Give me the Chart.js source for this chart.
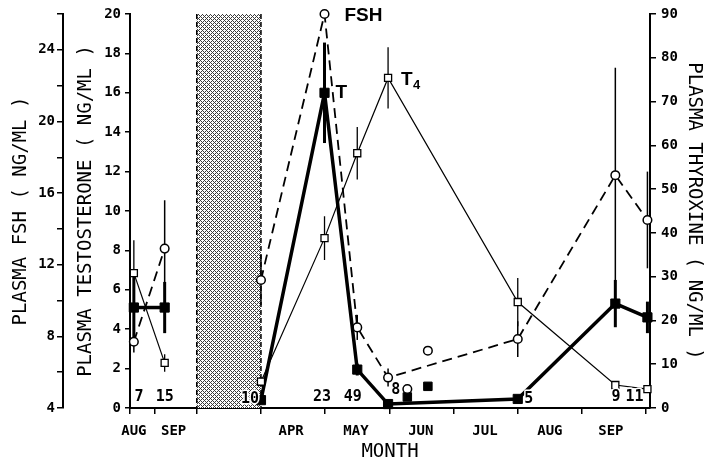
<!DOCTYPE html>
<html>
<head>
<meta charset="utf-8">
<script src="https://cdn.jsdelivr.net/npm/chart.js@4"></script>
<style>
  html, body { margin: 0; padding: 0; background: #fff; }
  #wrap { width: 705px; height: 463px; }
</style>
</head>
<body>
<div id="wrap"><canvas id="chart"></canvas></div>
<script>
// x is counted in months from 1 April; left of -1 is the previous Aug/Sep,
// squeezed in before the shaded March block (-1 .. 0)
const prevX = [-1.98, -1.50];
const mainX = [0, 0.99, 1.50, 1.98, 4.0, 5.52, 6.02];

const fshPrev    = [7.7, 12.9];
const fshPrevErr = [0.6, 2.7];
const fshMain    = [11.15, 26.0, 8.5, 5.7, 7.85, 17.0, 14.5];
const fshMainErr = [1.4, 0, 0.7, 0.5, 1.0, 6.0, 2.7];

const tPrev    = [5.1, 5.1];
const tPrevErr = [1.8, 1.3];
const tMain    = [0.4, 16.0, 1.95, 0.2, 0.46, 5.3, 4.6];
const tMainErr = [0, 2.55, 0.3, 0, 0, 1.2, 0.8];

const t4Prev    = [30.8, 10.3];
const t4PrevErr = [7.5, 2.0];
const t4Main    = [6.0, 38.8, 58.2, 75.4, 24.2, 5.25, 4.3];
const t4MainErr = [1.0, 5.0, 6.0, 7.0, 5.5, 0, 0];

// separate group plotted without lines (early June)
const extraX   = [2.28, 2.60];
const extraFsh = [5.06, 7.2];
const extraT   = [0.56, 1.1];

// sample sizes along the bottom (x, height in testosterone units)
const nText = ['7', '15', '10', '23', '49', '8', '5', '9', '11'];
const nX    = [-1.9, -1.5, -0.17, 0.95, 1.43, 2.1, 4.17, 5.53, 5.82];
const nT    = [0.55, 0.55, 0.45, 0.55, 0.55, 0.9, 0.45, 0.55, 0.55];

const monthEdges = [-2.04, -1.66, -1, 0, 1, 2, 3, 4, 5, 6];
const monthMid   = [-1.98, -1.36, 0.47, 1.48, 2.49, 3.49, 4.5, 5.45];
const monthNames = ['AUG', 'SEP', 'APR', 'MAY', 'JUN', 'JUL', 'AUG', 'SEP'];
const shadeFrom = -1, shadeTo = 0;
const xMin = -2.04, xMax = 6.06;

const mono = 'DejaVu Sans Mono';
const tickFont = { family: mono, size: 14, weight: 'bold' };
const titleFont = { family: mono, size: 19 };

const pts = (xs, ys) => xs.map((x, i) => ({ x, y: ys[i] }));

function hatch(ctx) {
  const c = document.createElement('canvas');
  c.width = 4; c.height = 4;
  const g = c.getContext('2d');
  g.fillStyle = '#fff'; g.fillRect(0, 0, 4, 4);
  g.fillStyle = '#3a3a3a';
  for (let y = 0; y < 4; y++) {
    for (let x = 0; x < 4; x++) {
      if ((x + y) % 2 === 0) g.fillRect(x, y, 1, 1);
    }
  }
  g.fillStyle = '#fff'; g.fillRect(2, 0, 1, 1); g.fillRect(0, 2, 1, 1);
  return ctx.createPattern(c, 'repeat');
}

const shading = {
  id: 'shading',
  beforeDatasetsDraw(chart) {
    const { ctx, chartArea } = chart;
    const xs = chart.scales.x;
    const a = xs.getPixelForValue(shadeFrom), b = xs.getPixelForValue(shadeTo);
    ctx.save();
    ctx.fillStyle = hatch(ctx);
    ctx.fillRect(a, chartArea.top, b - a, chartArea.bottom - chartArea.top);
    ctx.strokeStyle = '#000';
    ctx.lineWidth = 1.5;
    ctx.setLineDash([5, 3]);
    [a, b].forEach(px => {
      ctx.beginPath();
      ctx.moveTo(px, chartArea.top);
      ctx.lineTo(px, chartArea.bottom);
      ctx.stroke();
    });
    ctx.restore();
  }
};

const errorBars = {
  id: 'errorBars',
  beforeDatasetsDraw(chart) {
    const ctx = chart.ctx;
    chart.data.datasets.forEach((ds, i) => {
      if (!ds.errors) return;
      const meta = chart.getDatasetMeta(i);
      const ys = chart.scales[ds.yAxisID];
      ctx.save();
      ctx.strokeStyle = '#000';
      ctx.lineWidth = ds.errorWidth;
      ds.data.forEach((p, j) => {
        const e = ds.errors[j];
        if (!e) return;
        const px = meta.data[j].x;
        ctx.beginPath();
        ctx.moveTo(px, ys.getPixelForValue(p.y + e));
        ctx.lineTo(px, ys.getPixelForValue(p.y - e));
        ctx.stroke();
      });
      ctx.restore();
    });
  }
};

const labels = {
  id: 'labels',
  afterDatasetsDraw(chart) {
    const ctx = chart.ctx;
    const xs = chart.scales.x, ts = chart.scales.yT;
    ctx.save();
    ctx.font = 'bold 15px "' + mono + '"';
    ctx.textAlign = 'center';
    ctx.textBaseline = 'middle';
    ctx.lineJoin = 'round';
    nText.forEach((s, i) => {
      const px = xs.getPixelForValue(nX[i]), py = ts.getPixelForValue(nT[i]);
      ctx.strokeStyle = '#fff'; ctx.lineWidth = 3;
      ctx.strokeText(s, px, py);
      ctx.fillStyle = '#000';
      ctx.fillText(s, px, py);
    });

    // series names beside their peaks
    const peakOf = label => {
      const i = chart.data.datasets.findIndex(d => d.label === label);
      const data = chart.data.datasets[i].data;
      let k = 0;
      data.forEach((p, j) => { if (p.y > data[k].y) k = j; });
      return chart.getDatasetMeta(i).data[k];
    };
    ctx.textAlign = 'left';
    ctx.fillStyle = '#000';
    ctx.font = 'bold 19px "Liberation Sans"';
    let p = peakOf('FSH');
    ctx.fillText('FSH', p.x + 20, p.y + 2);
    p = peakOf('T');
    ctx.fillText('T', p.x + 11, p.y);
    p = peakOf('T4');
    ctx.fillText('T', p.x + 13, p.y + 2);
    ctx.font = 'bold 13px "Liberation Sans"';
    ctx.fillText('4', p.x + 25, p.y + 8);
    ctx.restore();
  }
};

const t4Style = {
  xAxisID: 'x', yAxisID: 'yT4', errorWidth: 1.3,
  borderColor: '#000', borderWidth: 1.2,
  pointStyle: 'rect', pointRadius: 5, pointBackgroundColor: '#fff',
  pointBorderColor: '#000', pointBorderWidth: 1.3
};
const tStyle = {
  xAxisID: 'x', yAxisID: 'yT', errorWidth: 3,
  borderColor: '#000', borderWidth: 3.5,
  pointStyle: 'rect', pointRadius: 6.5, pointBackgroundColor: '#000',
  pointBorderColor: '#000', pointBorderWidth: 1
};
const fshStyle = {
  xAxisID: 'x', yAxisID: 'yFSH', errorWidth: 1.5,
  borderColor: '#000', borderWidth: 1.8, borderDash: [10, 6],
  pointStyle: 'circle', pointRadius: 4.3, pointBackgroundColor: '#fff',
  pointBorderColor: '#000', pointBorderWidth: 1.5
};

new Chart(document.getElementById('chart'), {
  type: 'line',
  data: {
    datasets: [
      { ...t4Style, label: 'T4', data: pts(mainX, t4Main), errors: t4MainErr },
      { ...t4Style, label: 'T4 prev', data: pts(prevX, t4Prev), errors: t4PrevErr },
      { ...tStyle, label: 'T', data: pts(mainX, tMain), errors: tMainErr },
      { ...tStyle, label: 'T prev', data: pts(prevX, tPrev), errors: tPrevErr },
      { ...fshStyle, label: 'FSH', data: pts(mainX, fshMain), errors: fshMainErr },
      { ...fshStyle, label: 'FSH prev', data: pts(prevX, fshPrev), errors: fshPrevErr },
      { ...fshStyle, label: 'FSH extra', data: pts(extraX, extraFsh), showLine: false },
      { ...tStyle, label: 'T extra', data: pts(extraX, extraT), showLine: false, pointRadius: 6 }
    ]
  },
  options: {
    responsive: true,
    maintainAspectRatio: false,
    animation: false,
    clip: false,
    layout: { padding: { top: 14, left: 0, right: 0, bottom: 0 } },
    elements: { line: { tension: 0 } },
    plugins: { legend: { display: false }, tooltip: { enabled: false } },
    scales: {
      x: {
        type: 'linear', position: 'bottom', weight: 0, min: xMin, max: xMax,
        afterBuildTicks: s => { s.ticks = monthEdges.map(v => ({ value: v })); },
        afterFit: s => { s.height = 6; },
        ticks: { display: false },
        grid: { drawOnChartArea: false, tickLength: 6, color: '#000', lineWidth: 1.5 },
        border: { color: '#000', width: 2 }
      },
      xMonth: {
        type: 'linear', position: 'bottom', weight: 1, min: xMin, max: xMax,
        afterBuildTicks: s => { s.ticks = monthMid.map(v => ({ value: v })); },
        afterFit: s => { s.height = 49; },
        ticks: {
          callback: (v, i) => monthNames[i], font: tickFont, color: '#000',
          padding: 1, maxRotation: 0, autoSkip: false
        },
        grid: { display: false },
        border: { display: false },
        title: { display: true, text: 'MONTH', font: titleFont, color: '#000', padding: 0 }
      },
      yFSH: {
        type: 'linear', position: 'left', weight: 1, min: 4, max: 26,
        afterFit: s => { s.width = 63; },
        ticks: { stepSize: 2, callback: v => (v % 4 === 0 ? v : ''), font: tickFont, color: '#000', padding: 2 },
        grid: { drawOnChartArea: false, tickLength: 6, color: '#000', lineWidth: 1.5 },
        border: { color: '#000', width: 2 },
        title: { display: true, text: 'PLASMA FSH ( NG/ML )', font: titleFont, color: '#000', padding: { top: 10, bottom: 0 } }
      },
      yT: {
        type: 'linear', position: 'left', weight: 0, min: 0, max: 20,
        afterFit: s => { s.width = 67; },
        ticks: { stepSize: 2, font: tickFont, color: '#000', padding: 4 },
        grid: { drawOnChartArea: false, tickLength: 5, color: '#000', lineWidth: 1.5 },
        border: { color: '#000', width: 2 },
        title: { display: true, text: 'PLASMA TESTOSTERONE ( NG/ML )', font: titleFont, color: '#000', padding: { top: 12, bottom: 0 } }
      },
      yT4: {
        type: 'linear', position: 'right', min: 0, max: 90,
        afterFit: s => { s.width = 55; },
        ticks: { stepSize: 10, font: tickFont, color: '#000', padding: 5 },
        grid: { drawOnChartArea: false, tickLength: 6, color: '#000', lineWidth: 1.5 },
        border: { color: '#000', width: 2 },
        title: { display: true, text: 'PLASMA THYROXINE ( NG/ML )', font: titleFont, color: '#000', padding: { top: 0, bottom: 0 } }
      }
    }
  },
  plugins: [shading, errorBars, labels]
});
</script>
</body>
</html>
